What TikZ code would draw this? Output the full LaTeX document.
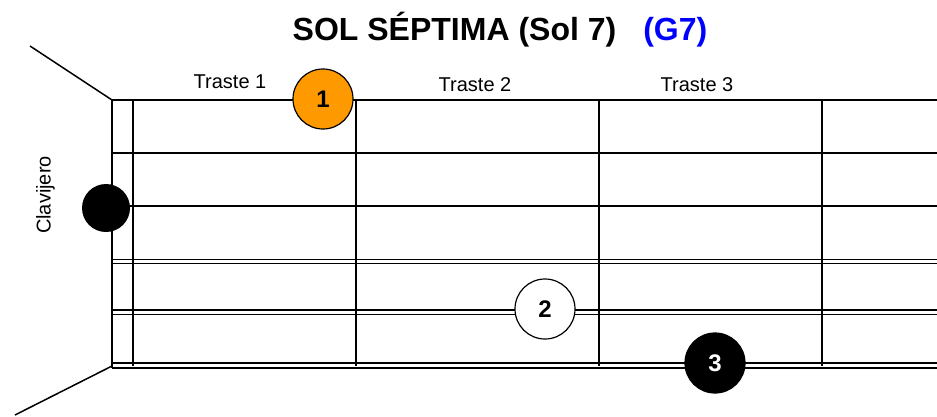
\documentclass[tikz,border=0pt]{standalone}
\usepackage{fontspec}
\setmainfont{Liberation Sans}
\definecolor{dedo}{RGB}{255,153,0}
\begin{document}
\begin{tikzpicture}[
    x=1pt, y=-1pt,
    cuerda/.style={line width=1.7pt},
    traste/.style={line width=1.7pt},
    dedo/.style={circle, draw, line width=1.2pt, minimum size=60pt, inner sep=0pt, font=\fontsize{24}{24}\selectfont\bfseries},
    rotulo/.style={font=\fontsize{20}{20}\selectfont},
]
\useasboundingbox (0,0) rectangle (937,416);

% Titulo
\node (titulo) at (500,30) {\fontsize{32}{32}\selectfont\bfseries SOL SÉPTIMA (Sol 7)\hspace{27pt}\textcolor{blue}{(G7)}};

% Clavijero
\draw[line width=1.5pt] (30,46) -- (112,100);
\draw[line width=1.5pt] (15,415) -- (112,366);
\node[rotulo, rotate=90] (clavijero) at (45.5,195) {Clavijero};

% Cuerdas
\draw[cuerda] (112,100) -- (937,100);
\draw[cuerda] (112,153) -- (937,153);
\draw[cuerda] (112,206) -- (937,206);
\draw[cuerda] (112,259.5) -- (937,259.5);
\draw[cuerda] (112,263.5) -- (937,263.5);
\draw[cuerda] (112,310) -- (937,310);
\draw[cuerda] (112,314.5) -- (937,314.5);
\draw[cuerda] (112,363) -- (937,363);
\draw[cuerda] (112,368) -- (937,368);

% Trastes
\draw[traste] (112,100) -- (112,368);
\draw[traste] (133,100) -- (133,366);
\draw[traste] (356,100) -- (356,366);
\draw[traste] (599,100) -- (599,366);
\draw[traste] (822,100) -- (822,366);

\node[rotulo] (t1) at (230,82) {Traste 1};
\node[rotulo] (t2) at (475,85) {Traste 2};
\node[rotulo] (t3) at (697,85) {Traste 3};

% Dedos
\node[dedo, fill=dedo] (d1) at (323,99) {1};
\node[dedo, fill=white] (d2) at (545,309) {2};
\node[dedo, fill=black, text=white] (d3) at (715,363) {3};
\node[circle, fill=black, minimum size=48pt] (aire) at (106,208) {};

\end{tikzpicture}
\end{document}
